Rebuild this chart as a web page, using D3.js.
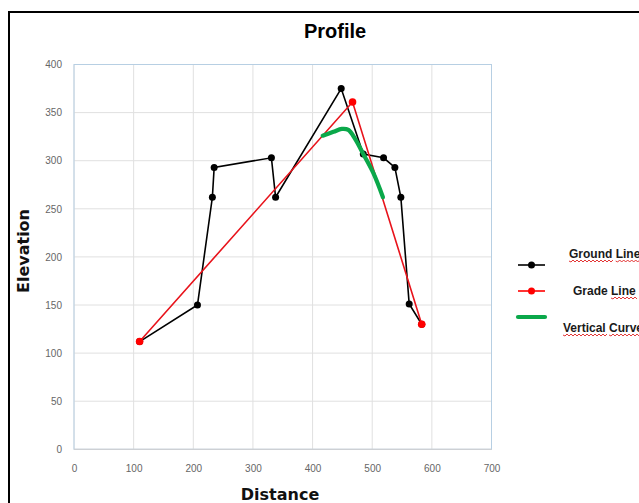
<!DOCTYPE html>
<html><head><meta charset="utf-8">
<script src="https://cdn.jsdelivr.net/npm/d3@7"></script>
<style>
html,body{margin:0;padding:0;background:#fff;overflow:hidden;}
svg{display:block;}
</style></head>
<body>
<svg id="chart" width="639" height="503"></svg>
<script>
// ---- data ----
const groundX = [110, 207, 232, 235, 331, 338, 448, 485, 519, 538, 548, 562, 583];
const groundY = [112, 150, 262, 293, 303, 262, 375, 307, 303, 293, 262, 151, 130];
const gradeX = [110, 467, 583];
const gradeY = [112, 361, 130];
const curveX = [417, 435, 449, 460, 471, 485, 502, 518];
const curveY = [326, 330, 333, 332, 323, 307, 287, 262];
const xTicks = [0, 100, 200, 300, 400, 500, 600, 700];
const yTicks = [0, 50, 100, 150, 200, 250, 300, 350, 400];
const legendLabels = ["Ground Line", "Grade Line", "Vertical Curve"];
const titleText = "Profile";
const xTitle = "Distance";
const yTitle = "Elevation";

const svg = d3.select("#chart");
const x = d3.scaleLinear().domain([0, 700]).range([74, 491.5]);
const y = d3.scaleLinear().domain([0, 400]).range([449.3, 64.5]);

// outer frame
svg.append("rect").attr("x", 9).attr("y", 12).attr("width", 700).attr("height", 600)
  .attr("fill", "none").attr("stroke", "#000").attr("stroke-width", 2);

// title
svg.append("text").attr("x", 335).attr("y", 38).attr("text-anchor", "middle")
  .attr("font-family", "Liberation Sans, Arial, sans-serif").attr("font-weight", "bold")
  .attr("font-size", 20).attr("fill", "#000").text(titleText);

// gridlines
svg.append("g").selectAll("line.v").data(xTicks).join("line")
  .attr("x1", d => x(d)).attr("x2", d => x(d)).attr("y1", y(0)).attr("y2", y(400))
  .attr("stroke", "#e0e0e0").attr("stroke-width", 1);
svg.append("g").selectAll("line.h").data(yTicks).join("line")
  .attr("x1", x(0)).attr("x2", x(700)).attr("y1", d => y(d)).attr("y2", d => y(d))
  .attr("stroke", "#e0e0e0").attr("stroke-width", 1);
// plot border
svg.append("rect").attr("x", x(0)).attr("y", y(400)).attr("width", x(700) - x(0)).attr("height", y(0) - y(400))
  .attr("fill", "none").attr("stroke", "#b7cfe3").attr("stroke-width", 1);
svg.append("line").attr("x1", x(0)).attr("x2", x(700)).attr("y1", y(0)).attr("y2", y(0))
  .attr("stroke", "#d0d0d0");

// axes
const xAxis = svg.append("g").attr("transform", `translate(0,${y(0)})`)
  .call(d3.axisBottom(x).tickValues(xTicks).tickSize(0).tickPadding(16));
const yAxis = svg.append("g").attr("transform", `translate(${x(0)},0)`)
  .call(d3.axisLeft(y).tickValues(yTicks).tickSize(0).tickPadding(12));
[xAxis, yAxis].forEach(a => {
  a.select(".domain").remove();
  a.selectAll("text").attr("font-family", "Liberation Sans, Arial, sans-serif")
    .attr("font-size", 10).attr("fill", "#666");
});

// axis titles
svg.append("text").attr("x", 280).attr("y", 500).attr("text-anchor", "middle")
  .attr("font-family", "DejaVu Sans, sans-serif").attr("font-weight", "bold")
  .attr("font-size", 16).attr("fill", "#111").text(xTitle);
svg.append("text").attr("transform", "translate(29,251) rotate(-90)").attr("text-anchor", "middle")
  .attr("font-family", "DejaVu Sans, sans-serif").attr("font-weight", "bold")
  .attr("font-size", 16).attr("fill", "#111").text(yTitle);

// series
const line = d3.line().x(d => x(d[0])).y(d => y(d[1]));
const ground = groundX.map((d, i) => [d, groundY[i]]);
const grade = gradeX.map((d, i) => [d, gradeY[i]]);
const vcurve = curveX.map((d, i) => [d, curveY[i]]);

svg.append("path").datum(ground).attr("d", line).attr("fill", "none")
  .attr("stroke", "#000").attr("stroke-width", 1.6);
svg.append("g").selectAll("circle").data(ground).join("circle")
  .attr("cx", d => x(d[0])).attr("cy", d => y(d[1])).attr("r", 3.5).attr("fill", "#000");

svg.append("path").datum(grade).attr("d", line).attr("fill", "none")
  .attr("stroke", "#e8131b").attr("stroke-width", 1.6);
svg.append("g").selectAll("circle").data(grade).join("circle")
  .attr("cx", d => x(d[0])).attr("cy", d => y(d[1])).attr("r", 3.8).attr("fill", "#ff0000");

svg.append("path").datum(vcurve).attr("d", line.curve(d3.curveCatmullRom)).attr("fill", "none")
  .attr("stroke", "#0aa84a").attr("stroke-width", 4.2).attr("stroke-linecap", "round");

// legend
const legY = [265, 291, 317];
const textY = [258, 295, 332];
const textX = [569, 573, 563];
const colors = ["#000", "#ff0000", "#0aa84a"];
legendLabels.forEach((lab, i) => {
  svg.append("line").attr("x1", 518).attr("x2", 545).attr("y1", legY[i]).attr("y2", legY[i])
    .attr("stroke", colors[i]).attr("stroke-width", i === 2 ? 4.2 : 1.6).attr("stroke-linecap", i === 2 ? "round" : "butt");
  if (i < 2) svg.append("circle").attr("cx", 531.5).attr("cy", legY[i]).attr("r", 3.5).attr("fill", colors[i]);
  const t = svg.append("text").attr("x", textX[i]).attr("y", textY[i])
    .attr("font-family", "Liberation Sans, Arial, sans-serif").attr("font-weight", "bold")
    .attr("font-size", 12).attr("fill", "#1a1a1a").text(lab);
  // spell-check squiggles
  const node = t.node();
  const words = lab.split(" ");
  let idx = 0;
  words.forEach((w, wi) => {
    const start = node.getSubStringLength(0, idx);
    const len = node.getSubStringLength(idx, w.length);
    idx += w.length + 1;
    if (i === 1 && wi === 0) return;
    const x0 = textX[i] + start, yy = textY[i] + 3;
    let p = `M${x0},${yy}`;
    for (let k = 0; x0 + k * 2 < x0 + len; k++) p += `L${x0 + (k + 1) * 2},${yy + (k % 2 ? -1 : 1)}`;
    svg.append("path").attr("d", p).attr("fill", "none").attr("stroke", "#e02020").attr("stroke-width", 0.9);
  });
});
</script>
</body></html>
